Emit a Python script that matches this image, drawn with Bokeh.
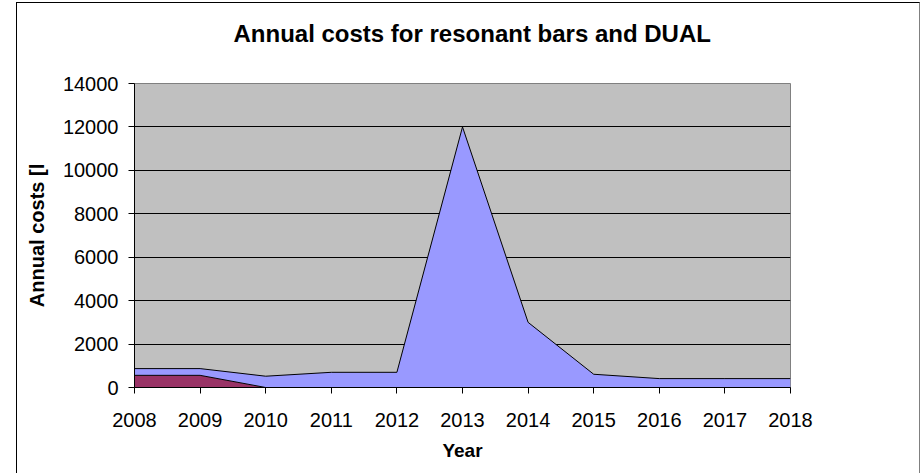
from bokeh.plotting import figure
from bokeh.models import ColumnDataSource, FixedTicker, InlineStyleSheet, Title
from bokeh.embed import file_html
from bokeh.resources import INLINE

# Annual costs per year, stacked: resonant bars at the bottom, DUAL on top
years = [2008, 2009, 2010, 2011, 2012, 2013, 2014, 2015, 2016, 2017, 2018]
resonant_bars = [560, 560, 0, 0, 0, 0, 0, 0, 0, 0, 0]
dual = [310, 310, 520, 700, 700, 12000, 3000, 610, 410, 410, 410]
y_ticks = [0, 2000, 4000, 6000, 8000, 10000, 12000, 14000]

FONT = "Liberation Sans"

src = ColumnDataSource(dict(year=years, bars=resonant_bars, dual=dual))

p = figure(
    width=920, height=473,
    x_range=(2008, 2018), y_range=(0, 14000),
    output_backend="svg", toolbar_location=None,
    min_border_left=134, min_border_right=130,
    min_border_top=83, min_border_bottom=86,
    background_fill_color="#C0C0C0", border_fill_color="white",
)

p.varea_stack(["bars", "dual"], x="year", source=src,
              color=["#993366", "#9999FF"])
p.vline_stack(["bars", "dual"], x="year", source=src,
              color="black", line_width=1)

# chart-area frame around the whole figure
p.stylesheets = [InlineStyleSheet(css="""
:host::after {
  content: "";
  position: absolute;
  left: 16px; top: 2px;
  width: 904px; height: 471px;
  box-sizing: border-box;
  border-left: 1.5px solid black;
  border-top: 1.5px solid black;
  border-right: 1px solid #808080;
  border-bottom: none;
  pointer-events: none;
}
""")]

p.outline_line_color = "#808080"
p.outline_line_width = 1

# heading: a blank spacer row next to the plot area, the title above it
p.title.text = ""
p.add_layout(Title(text=" ", text_font_size="10px", standoff=24), "above")
p.add_layout(Title(text="Annual costs for resonant bars and DUAL",
                   align="left", offset=99, text_color="black",
                   text_font=FONT, text_font_size="24px",
                   text_font_style="bold", standoff=0), "above")

p.xgrid.visible = False
p.ygrid.ticker = FixedTicker(ticks=y_ticks)
p.ygrid.grid_line_color = "black"
p.ygrid.grid_line_width = 1

p.yaxis.ticker = FixedTicker(ticks=y_ticks)
p.xaxis.ticker = FixedTicker(ticks=years)
for ax in (p.xaxis, p.yaxis):
    ax.axis_line_color = "black"
    ax.major_tick_line_color = "black"
    ax.major_tick_in = 0
    ax.major_tick_out = 6
    ax.minor_tick_line_color = None
    ax.major_label_text_font = FONT
    ax.major_label_text_font_size = "20px"
    ax.major_label_text_color = "black"
    ax.axis_label_text_font = FONT
    ax.axis_label_text_font_style = "bold"
    ax.axis_label_text_color = "black"

p.xaxis.major_label_standoff = 19
p.yaxis.major_label_standoff = 10
p.xaxis.axis_label = "Year"
p.xaxis.axis_label_text_font_size = "19px"
p.xaxis.axis_label_standoff = 10
p.yaxis.axis_label = "Annual costs [l"
p.yaxis.axis_label_text_font_size = "20px"
p.yaxis.axis_label_standoff = 12

open("out.html", "w").write(file_html(p, INLINE))
